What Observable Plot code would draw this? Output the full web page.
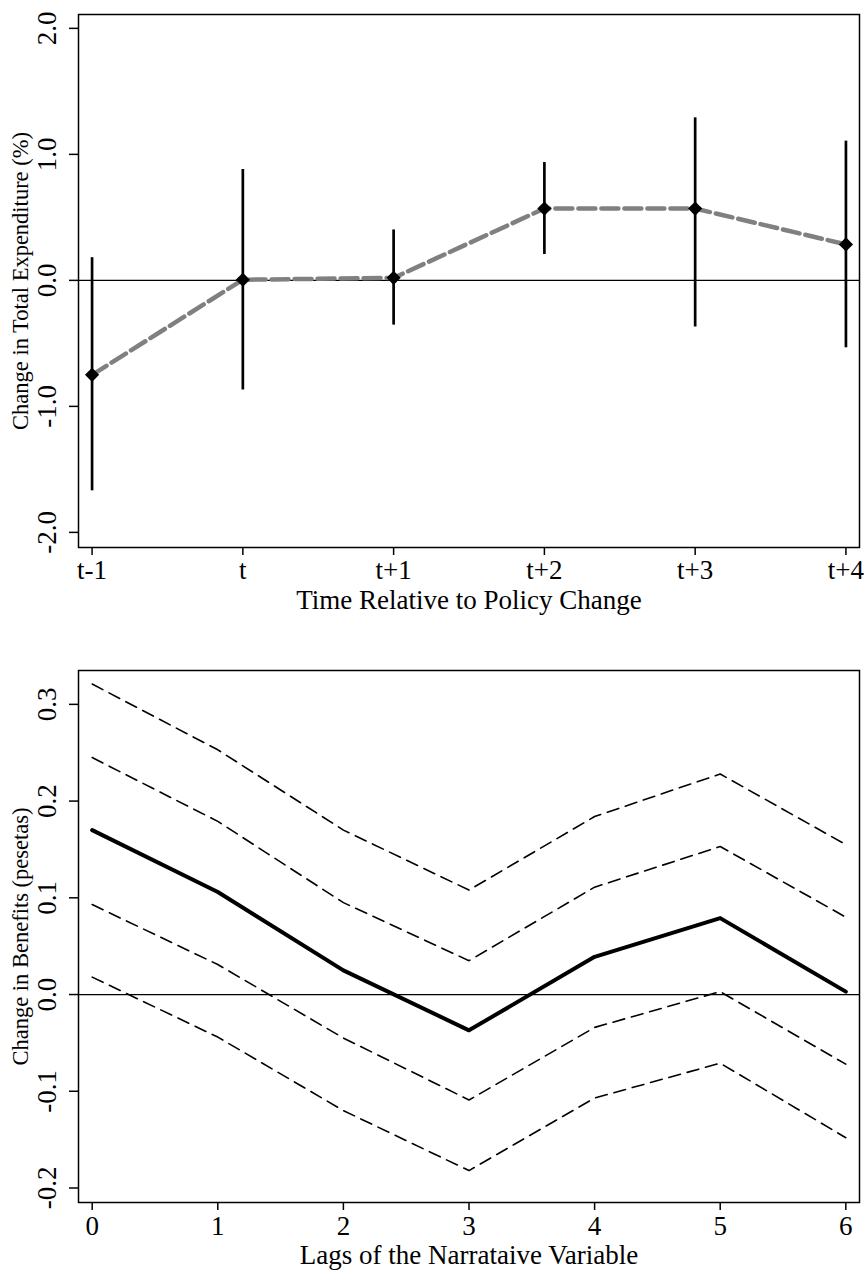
<!DOCTYPE html>
<html><head><meta charset="utf-8">
<script src="https://cdn.jsdelivr.net/npm/d3@7"></script>
<script src="https://cdn.jsdelivr.net/npm/@observablehq/plot@0.6"></script>
<style>
html,body{margin:0;padding:0;background:#fff;}
#chart svg{display:block;}
</style></head><body><div id="chart"></div>
<script>
// ---- Top panel data ----
const periods = ["t-1", "t", "t+1", "t+2", "t+3", "t+4"];
const estimate = [-0.75, 0.005, 0.02, 0.57, 0.57, 0.285];
const ciLow = [-1.67, -0.87, -0.355, 0.205, -0.37, -0.535];
const ciHigh = [0.18, 0.88, 0.40, 0.935, 1.29, 1.105];
const yTicksTop = [-2, -1, 0, 1, 2];

// ---- Bottom panel data ----
const lags = [0, 1, 2, 3, 4, 5, 6];
const coef = [0.170, 0.106, 0.025, -0.037, 0.039, 0.079, 0.003];
const outerUpper = [0.321, 0.253, 0.170, 0.108, 0.184, 0.228, 0.155];
const innerUpper = [0.245, 0.179, 0.095, 0.035, 0.111, 0.153, 0.080];
const innerLower = [0.093, 0.031, -0.045, -0.109, -0.034, 0.003, -0.072];
const outerLower = [0.018, -0.044, -0.120, -0.182, -0.107, -0.071, -0.148];
const yTicksBottom = [-0.2, -0.1, 0, 0.1, 0.2, 0.3];

const font = '"Liberation Serif","Times New Roman",serif';
const topData = periods.map((p, i) => ({i, p, est: estimate[i], lo: ciLow[i], hi: ciHigh[i]}));
const botData = lags.map((l, i) => ({l, c: coef[i], ou: outerUpper[i], iu: innerUpper[i], il: innerLower[i], ol: outerLower[i]}));

const topPlot = Plot.plot({
  width: 865, height: 635,
  marginTop: 14, marginBottom: 88, marginLeft: 78, marginRight: 6,
  style: {fontFamily: font, fontSize: "27px", color: "black", background: "white"},
  x: {domain: [-0.09, 5.09]},
  y: {domain: [-2.12, 2.11]},
  marks: [
    Plot.ruleY([0], {stroke: "black", strokeWidth: 1.3}),
    Plot.line(topData, {x: "i", y: "est", stroke: "#808080", strokeWidth: 4.5, strokeDasharray: "17,6"}),
    Plot.ruleX(topData, {x: "i", y1: "lo", y2: "hi", stroke: "black", strokeWidth: 2.7}),
    Plot.dot(topData, {x: "i", y: "est", symbol: "diamond2", r: 6.4, fill: "black", stroke: null}),
    Plot.frame({stroke: "black", strokeWidth: 1.5}),
    Plot.axisX({ticks: periods.map((_, i) => i), tickFormat: i => periods[i], tickSize: 8, tickPadding: 4,
      strokeWidth: 1.5, fill: "black", fontSize: 27,
      label: "Time Relative to Policy Change", labelAnchor: "center", labelArrow: "none", labelOffset: 61}),
    Plot.axisY({ticks: yTicksTop, tickFormat: d => d.toFixed(1), tickRotate: -90, tickSize: 9, tickPadding: 14,
      strokeWidth: 1.5, fill: "black", fontSize: 27, label: null}),
    Plot.axisY({ticks: [], tickSize: 0, fill: "black", fontSize: 22.5,
      label: "Change in Total Expenditure (%)", labelAnchor: "center", labelArrow: "none", labelOffset: 66.6})
  ]
});

const botPlot = Plot.plot({
  width: 865, height: 638,
  marginTop: 35, marginBottom: 71, marginLeft: 78, marginRight: 6,
  style: {fontFamily: font, fontSize: "27px", color: "black", background: "white"},
  x: {domain: [-0.109, 6.109]},
  y: {domain: [-0.215, 0.335]},
  marks: [
    Plot.ruleY([0], {stroke: "black", strokeWidth: 1.3}),
    Plot.line(botData, {x: "l", y: "ou", stroke: "black", strokeWidth: 1.6, strokeDasharray: "12,7"}),
    Plot.line(botData, {x: "l", y: "iu", stroke: "black", strokeWidth: 1.6, strokeDasharray: "12,7"}),
    Plot.line(botData, {x: "l", y: "il", stroke: "black", strokeWidth: 1.6, strokeDasharray: "12,7"}),
    Plot.line(botData, {x: "l", y: "ol", stroke: "black", strokeWidth: 1.6, strokeDasharray: "12,7"}),
    Plot.line(botData, {x: "l", y: "c", stroke: "black", strokeWidth: 4}),
    Plot.frame({stroke: "black", strokeWidth: 1.5}),
    Plot.axisX({ticks: lags, tickFormat: d => String(d), tickSize: 8, tickPadding: 5,
      strokeWidth: 1.5, fill: "black", fontSize: 27,
      label: "Lags of the Narrataive Variable", labelAnchor: "center", labelArrow: "none", labelOffset: 61}),
    Plot.axisY({ticks: yTicksBottom, tickFormat: d => d.toFixed(1), tickRotate: -90, tickSize: 9, tickPadding: 14,
      strokeWidth: 1.5, fill: "black", fontSize: 27, label: null}),
    Plot.axisY({ticks: [], tickSize: 0, fill: "black", fontSize: 22.5,
      label: "Change in Benefits (pesetas)", labelAnchor: "center", labelArrow: "none", labelOffset: 66.6})
  ]
});

const el = document.getElementById("chart");
el.appendChild(topPlot);
el.appendChild(botPlot);
</script>
</body></html>
